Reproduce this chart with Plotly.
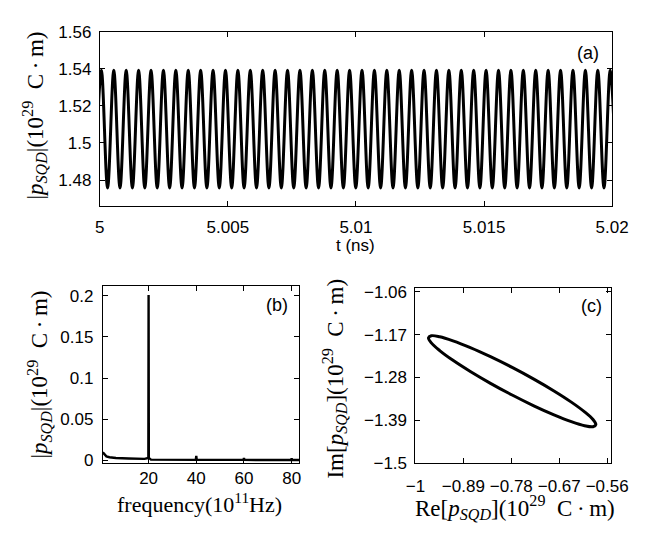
import plotly.graph_objects as go

# panel (a): times (ns) of the maxima and minima of |p_SQD|
t_peak = [
    5.0000636, 5.0005480, 5.0010324, 5.0015167, 5.0020011, 5.0024855, 5.0029699,
    5.0034543, 5.0039386, 5.0044230, 5.0049074, 5.0053918, 5.0058762, 5.0063605,
    5.0068449, 5.0073293, 5.0078137, 5.0082981, 5.0087824, 5.0092668, 5.0097512,
    5.0102356, 5.0107200, 5.0112043, 5.0116887, 5.0121731, 5.0126575, 5.0131419,
    5.0136262, 5.0141106, 5.0145950, 5.0150794, 5.0155638, 5.0160481, 5.0165325,
    5.0170169, 5.0175013, 5.0179857, 5.0184700, 5.0189544, 5.0194388, 5.0199232,
]
t_trough = [
    4.9998214, 5.0003058, 5.0007902, 5.0012746, 5.0017589, 5.0022433, 5.0027277,
    5.0032121, 5.0036965, 5.0041808, 5.0046652, 5.0051496, 5.0056340, 5.0061184,
    5.0066027, 5.0070871, 5.0075715, 5.0080559, 5.0085403, 5.0090246, 5.0095090,
    5.0099934, 5.0104778, 5.0109622, 5.0114465, 5.0119309, 5.0124153, 5.0128997,
    5.0133841, 5.0138684, 5.0143528, 5.0148372, 5.0153216, 5.0158060, 5.0162903,
    5.0167747, 5.0172591, 5.0177435, 5.0182279, 5.0187122, 5.0191966, 5.0196810,
    5.0201654,
]
p_peak = 1.5392
p_trough = 1.4757

# panel (b): spectrum
freq = [0.8, 1.6, 2.3, 3.6, 6.3, 11.6, 18.3, 19.9, 20.0, 20.1, 21, 30, 39.8, 40.0,
        40.2, 50, 59.8, 60.0, 60.2, 70, 79.8, 80.0, 80.2, 83.2]
amp = [0.0098, 0.0066, 0.0050, 0.0039, 0.0030, 0.0025, 0.0020, 0.0030, 0.2010, 0.0030,
       0.0010, 0.0008, 0.0008, 0.0055, 0.0008, 0.0007, 0.0007, 0.0030, 0.0007, 0.0006,
       0.0006, 0.0025, 0.0006, 0.0006]

# panel (c): trajectory in the complex plane
re_p = [-0.5860, -0.5925, -0.6117, -0.6422, -0.6820, -0.7283, -0.7780, -0.8277,
        -0.8740, -0.9138, -0.9443, -0.9635, -0.9700, -0.9635, -0.9443, -0.9138,
        -0.8740, -0.8277, -0.7780, -0.7283, -0.6820, -0.6422, -0.6117, -0.5925,
        -0.5860]
im_p = [-1.4010, -1.3880, -1.3683, -1.3432, -1.3145, -1.2841, -1.2540, -1.2264,
        -1.2030, -1.1856, -1.1752, -1.1726, -1.1780, -1.1910, -1.2107, -1.2358,
        -1.2645, -1.2949, -1.3250, -1.3527, -1.3760, -1.3934, -1.4038, -1.4064,
        -1.4010]

# the page body keeps an 8 px margin on every side, so the figure is made to fit inside it
OFF = 8
W, H = 664 - 2 * OFF, 537 - 2 * OFF

pts = sorted([(t, p_peak) for t in t_peak] + [(t, p_trough) for t in t_trough])
t_a = [p[0] for p in pts]
p_a = [p[1] for p in pts]


def px(x):
    return (x - OFF) / W


def py(y):
    return 1 - (y - OFF) / H


tick_font = dict(family="Liberation Sans", size=17, color="black")
label_font = dict(family="Liberation Sans", size=18, color="black")
title_font = dict(family="Liberation Serif", size=23, color="black")
xtitle_font = dict(family="Liberation Serif", size=22, color="black")


def axis(**kw):
    d = dict(
        showline=True,
        linecolor="black",
        linewidth=1,
        mirror="allticks",
        ticks="inside",
        ticklen=5,
        tickcolor="black",
        showgrid=False,
        zeroline=False,
        tickfont=tick_font,
    )
    d.update(kw)
    return d


fig = go.Figure()
fig.add_trace(go.Scatter(x=t_a, y=p_a, mode="lines", xaxis="x", yaxis="y",
                         line=dict(color="black", width=3, shape="spline", smoothing=1.0)))
fig.add_trace(go.Scatter(x=freq, y=amp, mode="lines", xaxis="x2", yaxis="y2",
                         line=dict(color="black", width=2.4)))
fig.add_trace(go.Scatter(x=re_p, y=im_p, mode="lines", xaxis="x3", yaxis="y3",
                         line=dict(color="black", width=3, shape="spline", smoothing=1.0)))

fig.update_layout(
    width=W,
    height=H,
    margin=dict(l=0, r=0, t=0, b=0),
    paper_bgcolor="white",
    plot_bgcolor="white",
    showlegend=False,
    xaxis=axis(domain=[px(93.3), px(628)], anchor="y", range=[5, 5.02],
               tickvals=[5, 5.005, 5.01, 5.015, 5.02],
               ticktext=["5", "5.005", "5.01", "5.015", "5.02"], ticklabelstandoff=6),
    yaxis=axis(domain=[py(204), py(23.3)], anchor="x", range=[1.4661, 1.56],
               tickvals=[1.48, 1.5, 1.52, 1.54, 1.56],
               ticktext=["1.48", "1.5", "1.52", "1.54", "1.56"], ticklabelstandoff=4),
    xaxis2=axis(domain=[px(96.5), px(301.5)], anchor="y2", range=[0.8, 83.2],
                tickvals=[20, 40, 60, 80], ticktext=["20", "40", "60", "80"]),
    yaxis2=axis(domain=[py(470.5), py(287)], anchor="x2", range=[-0.0026, 0.212],
                tickvals=[0, 0.05, 0.1, 0.15, 0.2],
                ticktext=["0", "0.05", "0.1", "0.15", "0.2"], ticklabelstandoff=5),
    xaxis3=axis(domain=[px(422.7), px(627.3)], anchor="y3", range=[-1, -0.55],
                tickvals=[-1, -0.89, -0.78, -0.67, -0.56],
                ticktext=["\u22121", "\u22120.89", "\u22120.78", "\u22120.67", "\u22120.56"],
                ticklabelstandoff=7),
    yaxis3=axis(domain=[py(471), py(289.3)], anchor="x3", range=[-1.5, -1.05],
                tickvals=[-1.5, -1.39, -1.28, -1.17, -1.06],
                ticktext=["\u22121.5", "\u22121.39", "\u22121.28", "\u22121.17", "\u22121.06"],
                ticklabelstandoff=4),
)

p_html = "<i>p</i><sub><i>SQD</i></sub>"
unit = "(10<sup>29</sup>\u2002C\u2009\u00b7\u2009m)"
notes = [
    ("|" + p_html + "|" + unit, 25, 110, -90, title_font),
    ("t (ns)", 360, 245, 0, tick_font),
    ("|" + p_html + "|" + unit, 30, 379, -90, title_font),
    ("frequency(10<sup>11</sup>Hz)", 197, 512, 0, xtitle_font),
    ("Im[" + p_html + "]" + unit, 338, 383, -90, title_font),
    ("Re[" + p_html + "]" + unit, 527, 517, 0, title_font),
    ("(a)", 603, 45, 0, label_font),
    ("(b)", 278, 307, 0, label_font),
    ("(c)", 606, 308, 0, label_font),
]
for text, x, y, ang, font in notes:
    fig.add_annotation(text=text, x=px(x), y=py(y), xref="paper", yref="paper",
                       xanchor="center", yanchor="middle", textangle=ang,
                       showarrow=False, font=font)

fig.write_html("out.html")
